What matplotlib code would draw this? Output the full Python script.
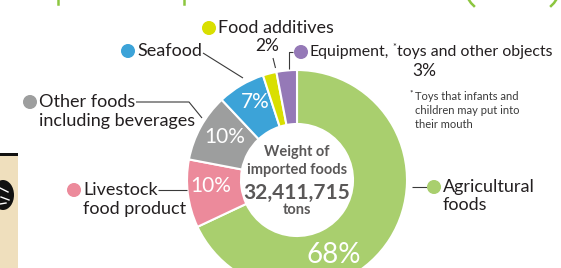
import matplotlib
matplotlib.use('Agg')
import matplotlib.pyplot as plt
from matplotlib.patches import Rectangle, Ellipse, Circle
from matplotlib import font_manager as fm

# ---------------- data ----------------
categories = ['Agricultural\nfoods', 'Livestock\nfood product',
              'Other foods\nincluding beverages', 'Seafood',
              'Food additives', 'Equipment, toys and other objects']
shares = [68, 10, 10, 7, 2, 3]
pct_labels = ['68%', '10%', '10%', '7%', '2%', '3%']
colors = ['#a9cf6e', '#ec8a9b', '#9d9e9e', '#3ca3d8', '#d9df00', '#9579b7']
center_title = ['Weight of', 'imported foods']
total_weight = '32,411,715'
total_unit = 'tons'
footnote = ['Toys that infants and', 'children may put into', 'their mouth']

names = {f.name for f in fm.fontManager.ttflist}
FONT = 'Lato' if 'Lato' in names else 'DejaVu Sans'
plt.rcParams['font.family'] = [FONT, 'DejaVu Sans']

W, H = 561, 268
fig = plt.figure(figsize=(W / 100, H / 100), dpi=100)
ax = fig.add_axes([0, 0, 1, 1])


def Y(y):
    return H - y


CX, CY, R, RW = 297, 180, 110, 54
wedges, _ = ax.pie(shares, colors=colors, startangle=90, counterclock=False,
                   center=(CX, Y(CY)), radius=R,
                   wedgeprops=dict(width=RW, edgecolor='white', linewidth=1.5))
ax.set_xlim(0, W)
ax.set_ylim(0, H)
ax.set_aspect('equal')
ax.axis('off')

TXT = '#231f20'
LINE = '#3a3a3a'

# percent labels inside the ring (white)
pct_pos = [(334, 255, 20), (211, 186, 15), (225, 137, 15), (255, 102, 15)]
for (x, y, fs), s in zip(pct_pos, pct_labels[:4]):
    ax.text(x, Y(y), s, color='white', fontsize=fs, fontweight='normal',
            ha='center', va='center')

# center text
ax.text(CX, Y(152), center_title[0], color='#5a5858', fontsize=10.5,
        fontweight='bold', ha='center', va='center')
ax.text(CX, Y(170), center_title[1], color='#5a5858', fontsize=10.5,
        fontweight='bold', ha='center', va='center')
ax.text(CX, Y(193), total_weight, color='#5a5858', fontsize=15,
        fontweight='bold', ha='center', va='center')
ax.text(CX, Y(210), total_unit, color='#5a5858', fontsize=10.5,
        fontweight='bold', ha='center', va='center')


def bullet(x, y, c):
    ax.add_patch(Circle((x, Y(y)), 6.3, color=c, zorder=5))


def line(xs, ys):
    ax.plot(xs, [Y(v) for v in ys], color=LINE, lw=0.8,
            solid_capstyle='butt', zorder=4)


LFS = 13
# Agricultural foods
line([412, 427], [187, 187])
bullet(434, 187, colors[0])
ax.text(443, Y(187), 'Agricultural', fontsize=LFS, color=TXT, ha='left', va='center')
ax.text(443, Y(205), 'foods', fontsize=LFS, color=TXT, ha='left', va='center')

# Livestock
line([158, 187], [190, 190])
bullet(74, 190, colors[1])
ax.text(83, Y(190), 'Livestock', fontsize=LFS, color=TXT, ha='left', va='center')
ax.text(83, Y(209), 'food product', fontsize=LFS, color=TXT, ha='left', va='center')

# Other foods
line([136, 189, 202], [102, 102, 118])
bullet(30, 102, colors[2])
ax.text(39, Y(102), 'Other foods', fontsize=LFS, color=TXT, ha='left', va='center')
ax.text(39, Y(121), 'including beverages', fontsize=LFS, color=TXT, ha='left', va='center')

# Seafood
line([203, 243], [53, 78])
bullet(128, 51, colors[3])
ax.text(137, Y(51), 'Seafood', fontsize=LFS, color=TXT, ha='left', va='center')

# Food additives
line([273, 275.5], [58, 68])
bullet(209, 28, colors[4])
ax.text(218, Y(28), 'Food additives', fontsize=LFS, color=TXT, ha='left', va='center')
ax.text(267, Y(46), pct_labels[4], fontsize=12.5, color=TXT, ha='center', va='center')

# Equipment (fit the line between x=310 and x=552)
line([293, 289, 289], [52, 52, 69])
bullet(301, 52, colors[5])
fig.canvas.draw()
rend = fig.canvas.get_renderer()


def equip_line(fs):
    t1 = ax.text(310, Y(52), 'Equipment,', fontsize=fs, color=TXT, ha='left', va='center')
    x1 = t1.get_window_extent(rend).x1
    t2 = ax.text(x1 + 3, Y(47), '*', fontsize=6.5, color=TXT, ha='left', va='center')
    x2 = t2.get_window_extent(rend).x1
    t3 = ax.text(x2 + 0.5, Y(52), 'toys and other objects', fontsize=fs, color=TXT,
                 ha='left', va='center')
    return [t1, t2, t3], t3.get_window_extent(rend).x1


parts, xend = equip_line(LFS)
fs_fit = LFS
for _ in range(3):
    fs_fit = fs_fit * (552 - 310) / (xend - 310)
    for p in parts:
        p.remove()
    parts, xend = equip_line(fs_fit)

ax.text(424, Y(71), pct_labels[5], fontsize=12.5, color=TXT, ha='center', va='center')

# footnote
ax.text(409, Y(93), '*', fontsize=6, color=TXT, ha='left', va='center')
for i, s in enumerate(footnote):
    ax.text(415, Y(96 + 14 * i), s, fontsize=8, color='#3a3a3a',
            ha='left', va='center')

# decorative left box
ax.add_patch(Rectangle((0, 0), 18, Y(153), facecolor='#efdfbd', edgecolor='none', zorder=1))
ax.add_patch(Rectangle((0, Y(156)), 18, 3.3, facecolor='#111111', edgecolor='none', zorder=2))
ax.add_patch(Ellipse((3, Y(195)), 22, 30, facecolor='#111111', edgecolor='none', zorder=3))
ax.plot([0, 8], [Y(188), Y(192)], color='white', lw=1, zorder=4)
ax.plot([1, 9], [Y(197), Y(200)], color='white', lw=1, zorder=4)
ax.plot([0, 6], [Y(204), Y(203)], color='white', lw=1, zorder=4)

# cropped green heading fragments at top edge
for x in (58, 184):
    ax.plot([x, x], [Y(0), Y(4)], color='#8cc63f', lw=1.8)
ax.plot([469, 471, 474], [Y(0), Y(3), Y(6)], color='#8cc63f', lw=1.8)
ax.plot([556, 554, 551], [Y(0), Y(3), Y(6)], color='#8cc63f', lw=1.8)

fig.savefig('out.png', dpi=100, facecolor='white')
